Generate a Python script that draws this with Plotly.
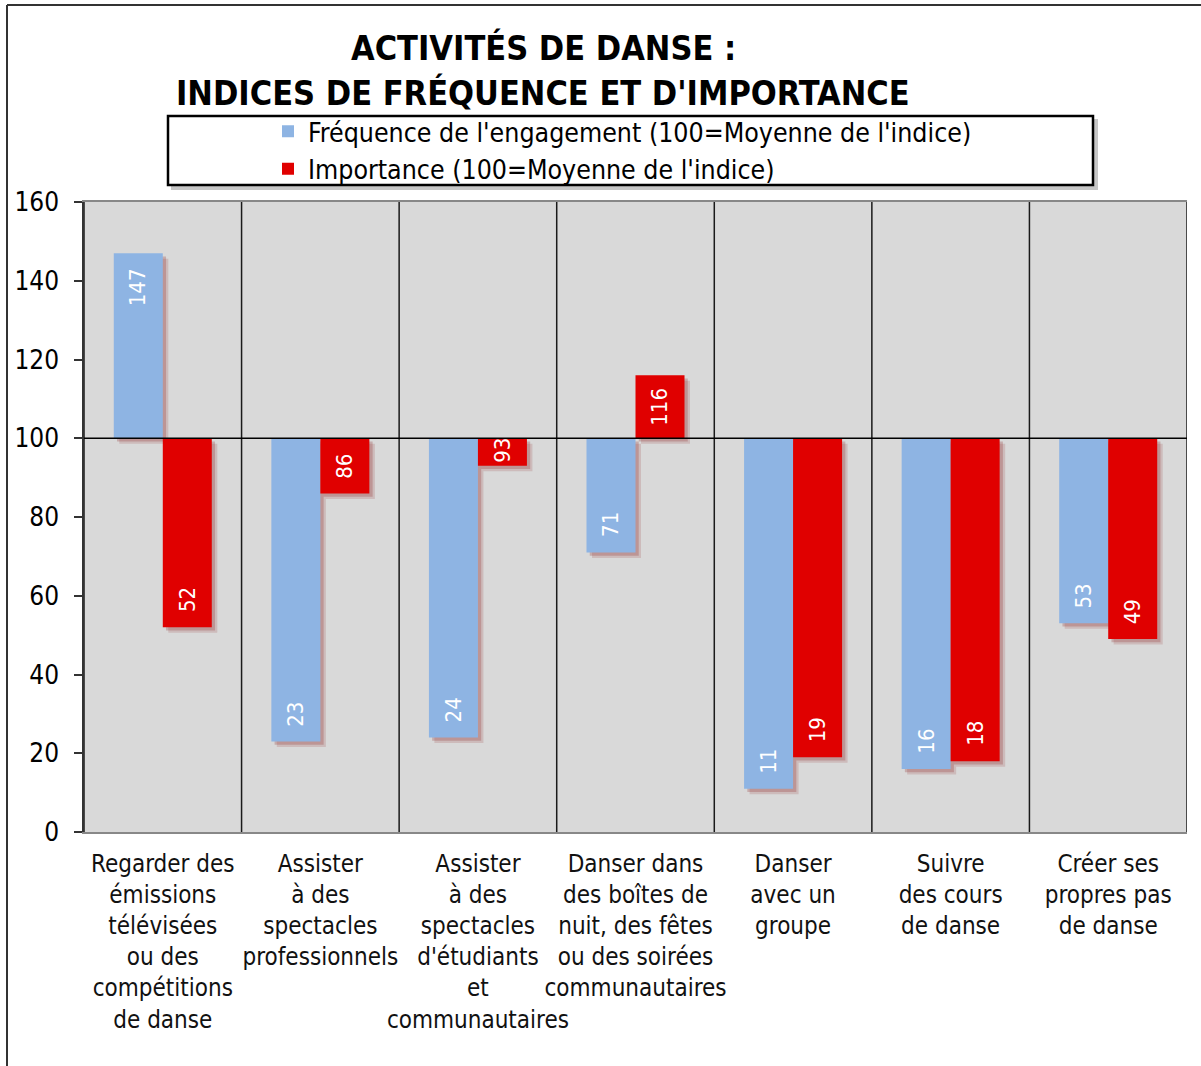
import plotly.graph_objects as go

categories = [
    "Regarder des<br>émissions<br>télévisées<br>ou des<br>compétitions<br>de danse",
    "Assister<br>à des<br>spectacles<br>professionnels",
    "Assister<br>à des<br>spectacles<br>d'étudiants<br>et<br>communautaires",
    "Danser dans<br>des boîtes de<br>nuit, des fêtes<br>ou des soirées<br>communautaires",
    "Danser<br>avec un<br>groupe",
    "Suivre<br>des cours<br>de danse",
    "Créer ses<br>propres pas<br>de danse",
]
frequence = [147, 23, 24, 71, 11, 16, 53]
importance = [52, 86, 93, 116, 19, 18, 49]
series_names = [
    "Fréquence de l'engagement (100=Moyenne de l'indice)",
    "Importance (100=Moyenne de l'indice)",
]
title_lines = ["ACTIVITÉS DE DANSE :", "INDICES DE FRÉQUENCE ET D'IMPORTANCE"]
BASE = 100
y_ticks = [0, 20, 40, 60, 80, 100, 120, 140, 160]

W, H = 1201, 1066
L, R, T, B = 84, 14, 202, 234
PW, PH = W - L - R, H - T - B
FONT = "'DejaVu Sans Condensed', 'DejaVu Sans', sans-serif"
BLUE = "#8EB4E3"
RED = "#E00000"

NCAT = len(categories)
CAT_PX = PW / NCAT
UNIT = PH / 160.0
BAR_W = 0.311  # in category units
SH_DX = 5 / CAT_PX
SH_DY = 5 / UNIT


def px_x(p):
    return (p - L) / PW


def px_y(p):
    return (H - B - p) / PH


fig = go.Figure()
x_idx = list(range(NCAT))
# soft shadows (drawn first, behind the bars)
for series, off in ((frequence, -BAR_W), (importance, 0.0)):
    for dx, alpha in ((1.1, 0.16), (0.65, 0.24)):
        fig.add_trace(go.Bar(
            x=x_idx, y=[v - BASE for v in series], base=BASE - SH_DY * dx,
            width=BAR_W, offset=off + SH_DX * dx, showlegend=False, hoverinfo="skip",
            marker=dict(color="rgba(140,30,30,%.2f)" % alpha, line=dict(width=0))))
fig.add_trace(go.Bar(x=x_idx, y=[v - BASE for v in frequence], base=BASE,
                     width=BAR_W, offset=-BAR_W,
                     name=series_names[0], marker=dict(color=BLUE, line=dict(width=0))))
fig.add_trace(go.Bar(x=x_idx, y=[v - BASE for v in importance], base=BASE,
                     width=BAR_W, offset=0.0,
                     name=series_names[1], marker=dict(color=RED, line=dict(width=0))))

shapes = []
for i in range(NCAT + 1):
    shapes.append(dict(type="line", xref="x", yref="paper", x0=i - 0.5, x1=i - 0.5,
                       y0=0, y1=1, line=dict(color="#1a1a1a", width=1.5)))
shapes.append(dict(type="line", xref="paper", yref="y", x0=0, x1=1, y0=BASE, y1=BASE,
                   line=dict(color="#000000", width=1.5)))
# legend box with shadow
shapes.append(dict(type="rect", xref="paper", yref="paper", layer="below",
                   x0=px_x(171), x1=px_x(1098), y0=px_y(190), y1=px_y(119),
                   fillcolor="rgba(0,0,0,0.22)", line=dict(width=0)))
shapes.append(dict(type="rect", xref="paper", yref="paper", layer="below",
                   x0=px_x(168), x1=px_x(1093), y0=px_y(185), y1=px_y(116),
                   fillcolor="white", line=dict(color="black", width=2.5)))
# chart frame
shapes.append(dict(type="line", xref="paper", yref="paper", x0=px_x(7), x1=px_x(7),
                   y0=px_y(5), y1=px_y(H), line=dict(color="#333333", width=2)))
shapes.append(dict(type="line", xref="paper", yref="paper", x0=px_x(7), x1=px_x(W),
                   y0=px_y(5), y1=px_y(5), line=dict(color="#333333", width=2)))

annotations = []
for line, ypx in zip(title_lines, (48, 93)):
    annotations.append(dict(text="<b>" + line + "</b>", xref="paper", yref="paper",
                            x=px_x(543), y=px_y(ypx), showarrow=False,
                            xanchor="center", yanchor="middle",
                            font=dict(family=FONT, size=34, color="black")))

for series, xs in ((frequence, -BAR_W / 2), (importance, BAR_W / 2)):
    for i, v in enumerate(series):
        txt = str(v)
        tlen = 12.5 * len(txt)
        bar_px = abs(v - BASE) * UNIT
        gap = max(3, min(15, (bar_px - tlen) / 2))
        off = gap + tlen / 2
        sign = -1 if v > BASE else 1
        annotations.append(dict(text=txt, x=i + xs, y=v, xref="x", yref="y",
                                yshift=sign * off, textangle=-90,
                                showarrow=False, xanchor="center", yanchor="middle",
                                font=dict(family=FONT, size=22, color="white")))

fig.update_layout(
    width=W, height=H,
    margin=dict(l=L, r=R, t=T, b=B, pad=0),
    paper_bgcolor="white", plot_bgcolor="#D9D9D9",
    barmode="overlay",
    showlegend=True,
    legend=dict(x=px_x(268), y=px_y(150), xanchor="left", yanchor="middle",
                bgcolor="rgba(0,0,0,0)", borderwidth=0, tracegroupgap=0,
                font=dict(family=FONT, size=26.5, color="black"), itemwidth=30),
    shapes=shapes, annotations=annotations,
    font=dict(family=FONT, color="black"),
)
fig.update_xaxes(
    tickmode="array", tickvals=x_idx, ticktext=categories, tickangle=0,
    range=[-0.5, NCAT - 0.5],
    showgrid=False, showline=True, linecolor="#888888", linewidth=1.5, mirror=True,
    ticks="", ticklabelstandoff=9, zeroline=False,
    tickfont=dict(family=FONT, size=24, color="#111111"),
)
fig.update_yaxes(
    range=[0, 160], tickvals=y_ticks, showgrid=False, zeroline=False,
    showline=True, linecolor="#333333", linewidth=1.5,
    ticks="outside", ticklen=8, tickcolor="#333333", tickwidth=1.5,
    ticklabelstandoff=10,
    tickfont=dict(family=FONT, size=26, color="black"),
)

fig.write_html("out.html", config={"displayModeBar": False},
               post_script="document.body.style.margin='0';")
